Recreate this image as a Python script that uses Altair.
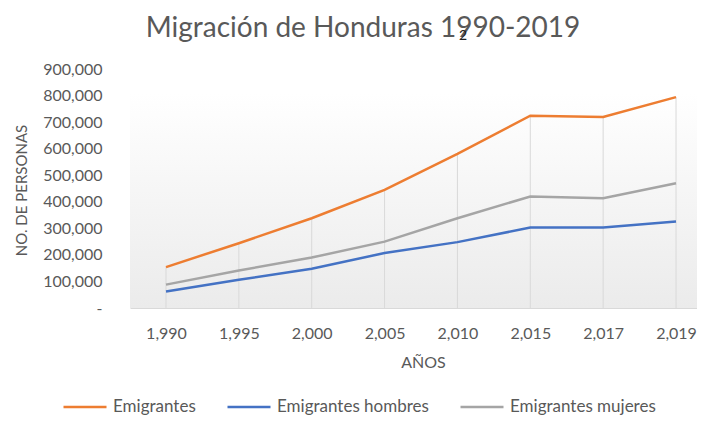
import altair as alt
import pandas as pd

# ---- data ----
years = [1990, 1995, 2000, 2005, 2010, 2015, 2017, 2019]
emigrantes = [154000, 244000, 338000, 445000, 580000, 724000, 719000, 794000]
hombres = [62000, 106000, 148000, 207000, 248000, 303000, 303000, 326000]
mujeres = [88000, 141000, 190000, 250000, 338000, 420000, 413000, 470000]
series = ["Emigrantes", "Emigrantes hombres", "Emigrantes mujeres"]
colors = ["#ED7D31", "#4472C4", "#A5A5A5"]
y_ticks = [0, 100000, 200000, 300000, 400000, 500000, 600000, 700000, 800000, 900000]

year_labels = [f"{y:,}" for y in years]
rows = []
for name, vals in zip(series, [emigrantes, hombres, mujeres]):
    for i, v in enumerate(vals):
        rows.append({"idx": i, "year": year_labels[i], "serie": name, "valor": v})
df = pd.DataFrame(rows)
drop_df = pd.DataFrame({"idx": list(range(len(years))), "valor": emigrantes})

W, H = 567, 239
FONT = "Lato"
GREY = "#595959"

label_arr = "[" + ",".join(f"'{s}'" for s in year_labels) + "]"

x_scale = alt.Scale(domain=[-0.494, 7.288], nice=False, zero=False)
y_scale = alt.Scale(domain=[0, 900000], nice=False)

x_axis = alt.Axis(
    values=list(range(len(years))), labelExpr=f"{label_arr}[datum.value]",
    grid=False, ticks=False, tickSize=0, domain=True, domainColor="#d9d9d9", domainWidth=1,
    labelFont=FONT, labelFontSize=16, labelColor=GREY, labelPadding=25,
    labelBaseline="middle", labelAlign="center",
    title="AÑOS", titleFont=FONT, titleFontSize=16, titleFontWeight="normal",
    titleColor=GREY, titleX=293, titleY=54, titleBaseline="middle", titleAlign="center",
)
y_axis = alt.Axis(
    values=y_ticks, labelExpr="datum.value == 0 ? '-' : format(datum.value, ',')",
    grid=False, ticks=False, tickSize=0, domain=False,
    labelFont=FONT, labelFontSize=16, labelColor=GREY, labelPadding=28,
    title="NO. DE PERSONAS", titleFont=FONT, titleFontSize=15, titleFontWeight="normal",
    titleColor=GREY, titleX=-109, titleY=121, titleAngle=270,
    titleAlign="center", titleBaseline="middle",
)

bg = alt.Chart(alt.Data(values=[{}])).mark_rect(
    color=alt.Gradient(
        gradient="linear",
        stops=[alt.GradientStop(color="#ffffff", offset=0),
               alt.GradientStop(color="#ebebeb", offset=1)],
        x1=0, x2=0, y1=0, y2=1,
    )
).encode(x=alt.value(0), x2=alt.value(W), y=alt.value(24), y2=alt.value(H))

drops = alt.Chart(drop_df).mark_rule(color="#d9d9d9", strokeWidth=1).encode(
    x=alt.X("idx:Q", scale=x_scale, axis=x_axis),
    y=alt.Y("valor:Q", scale=y_scale, axis=y_axis),
    y2=alt.datum(0),
)

lines = alt.Chart(df).mark_line(strokeWidth=2.5).encode(
    x=alt.X("idx:Q", scale=x_scale, axis=x_axis),
    y=alt.Y("valor:Q", scale=y_scale, axis=y_axis),
    color=alt.Color(
        "serie:N", scale=alt.Scale(domain=series, range=colors),
        sort=series,
        legend=alt.Legend(
            title=None, orient="none", legendX=-68, legendY=315,
            direction="horizontal", columns=3, columnPadding=26,
            symbolType="stroke", symbolSize=1849, symbolStrokeWidth=2.5,
            labelFont=FONT, labelFontSize=17, labelColor=GREY, labelOffset=5,
        ),
    ),
    order="idx:Q",
)

title_txt = alt.Chart(alt.Data(values=[{}])).mark_text(
    text="Migración de Honduras 1990-2019", font=FONT, fontSize=28,
    color=GREY, align="center", baseline="alphabetic",
).encode(x=alt.value(233), y=alt.value(-32))

stray = alt.Chart(alt.Data(values=[{}])).mark_text(
    text="2", font=FONT, fontSize=14, color="#222222", align="center", baseline="middle",
).encode(x=alt.value(333), y=alt.value(-33))

chart = alt.layer(bg, drops, lines, title_txt, stray).properties(
    width=W, height=H,
    autosize=alt.AutoSizeParams(type="none"),
    padding={"left": 122, "top": 61, "right": 0, "bottom": 108},
    background="white",
).configure_view(stroke=None)

chart.save("out.html", embed_options={"renderer": "svg", "actions": False})
